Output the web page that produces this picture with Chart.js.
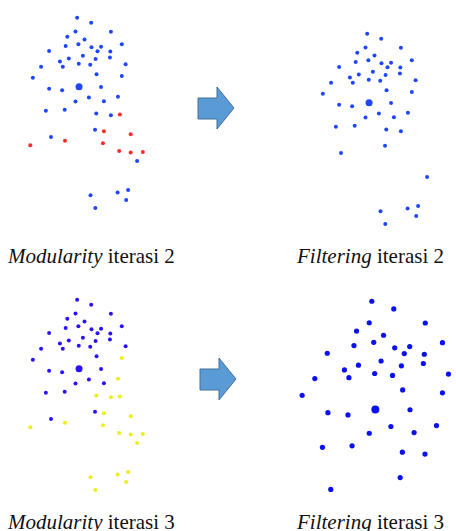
<!DOCTYPE html>
<html>
<head>
<meta charset="utf-8">
<script src="https://cdn.jsdelivr.net/npm/chart.js@4.4.1/dist/chart.umd.min.js"></script>
<style>
  html, body { margin: 0; padding: 0; background: #fff; }
  #page { position: relative; width: 456px; height: 531px; overflow: hidden; }
  canvas { position: absolute; }
  .cap { position: absolute; font-family: "Liberation Serif", "Times New Roman", Tinos, "DejaVu Serif", serif; font-size: 21px; color: #111; white-space: nowrap; line-height: 1; }
  svg { position: absolute; left: 0; top: 0; }
</style>
</head>
<body>
<div id="page">
  <svg width="456" height="531">
    <polygon points="198,98 217,98 217,87 234,108 217,129 217,119 198,119" fill="#5b9bd5" stroke="#41719c" stroke-width="1"/>
    <polygon points="200,369 219,369 219,358 236,379 219,400 219,390 200,390" fill="#5b9bd5" stroke="#41719c" stroke-width="1"/>
  </svg>
  <canvas id="mod2" width="160" height="220" style="left:0;top:0"></canvas>
  <canvas id="fil2" width="160" height="220" style="left:290px;top:16px"></canvas>
  <canvas id="mod3" width="160" height="220" style="left:0;top:282px"></canvas>
  <canvas id="fil3" width="176" height="220" style="left:280px;top:285px"></canvas>
  <div class="cap" style="left:8px;top:246px"><i>Modularity</i> iterasi 2</div>
  <div class="cap" style="left:297px;top:246px"><i>Filtering</i> iterasi 2</div>
  <div class="cap" style="left:8px;top:512px"><i>Modularity</i> iterasi 3</div>
  <div class="cap" style="left:297px;top:512px"><i>Filtering</i> iterasi 3</div>
</div>
<script>
// network layout (shared by modularity 2, filtering 2, modularity 3)
const nodeX = [77, 91.7, 75.3, 112.3, 66.7, 84.7, 65, 78.3, 92, 102, 123.7, 47.7, 98.3, 111.7, 83, 68.3,
  96.3, 111.3, 59, 78.7, 90.7, 127.7, 39.3, 62, 97.3, 123.7, 30.7, 79, 102, 47.7, 61.3, 89.3, 119.7,
  75.3, 105, 44.3, 64, 97, 112.3, 95.7, 49.7, 139.7, 130.3, 119.3, 91, 128.3, 96,
  121.7, 105, 133, 28, 64.3, 104, 121, 133, 145.7];
const nodeY = [14.7, 20, 29, 29.3, 34.3, 37.3, 44, 42, 45.3, 44.7, 42, 49, 49.3, 49.7, 54, 56.7,
  57.3, 55.7, 60, 62.3, 63.3, 62.7, 65.3, 65.3, 73, 75, 76.7, 86, 86.3, 88, 89.7, 97, 96.3,
  101.3, 101, 110.7, 109.7, 113.7, 115.3, 130.3, 138, 162.7, 192.7, 195.3, 198, 203, 211.3,
  114.7, 132, 135, 146.3, 141.7, 144.3, 152.3, 154, 153.3];
// community per node: 0 = main, 1 = split off
const comm2 = [0,0,0,0,0,0,0,0,0,0,0,0,0,0,0,0,0,0,0,0,0,0,0,0,0,0,0,0,0,0,0,0,0,0,0,0,0,0,0,0,0,0,0,0,0,0,0,
  1,1,1,1,1,1,1,1,1];
const comm3 = [0,0,0,0,0,0,0,0,0,0,0,0,0,0,0,0,0,0,0,0,0,0,0,0,0,1,0,0,0,0,0,0,1,0,0,0,0,1,1,0,0,1,1,1,1,1,1,
  1,1,1,1,1,1,1,1,1];
const hubNode = 27;

// filtering iterasi 3 re-layout
const fil3X = [92, 115, 89.3, 148, 76, 104.3, 73.3, 94, 166, 45.3, 116, 131.7, 126, 147, 101.7, 78, 63.3,
  123, 146, 95, 113.7, 172.3, 32.3, 68, 19, 124.3, 166, 95.7, 132, 46, 67, 112, 159.7, 89.3, 136.3,
  40.3, 71.3, 124, 147.7, 121.7, 49];
const fil3Y = [12.7, 20.7, 35, 35.3, 43.7, 48, 58.7, 55.3, 55.7, 66.7, 61, 59.7, 67, 67.7, 74.7, 79, 84,
  79.7, 77.3, 87.7, 89.7, 88.3, 93, 92, 110.3, 104.7, 107.7, 125, 125.3, 128.3, 130.7, 142.7, 141.7,
  149.7, 149, 164.3, 162.7, 169.3, 171.3, 195.7, 208];
const fil3Hub = 27;

function makeScatter(id, xs, ys, colors, radii, xMax, yMax) {
  const pts = xs.map((x, i) => ({ x: x, y: ys[i] }));
  new Chart(document.getElementById(id), {
    type: 'scatter',
    data: {
      datasets: [{
        data: pts,
        backgroundColor: colors,
        borderWidth: 0,
        pointRadius: radii,
        pointHoverRadius: radii,
        clip: false
      }]
    },
    options: {
      responsive: false,
      animation: false,
      events: [],
      layout: { padding: 0 },
      plugins: { legend: { display: false }, tooltip: { enabled: false } },
      scales: {
        x: { display: false, min: 0, max: xMax },
        y: { display: false, min: 0, max: yMax, reverse: true }
      }
    }
  });
}

function pick(arr, keep) { return arr.filter((v, i) => keep[i]); }

// modularity iterasi 2
makeScatter('mod2', nodeX, nodeY,
  comm2.map(c => c ? '#ff2a2a' : '#1f45ff'),
  nodeX.map((v, i) => i === hubNode ? 3.5 : 2), 160, 220);

// filtering iterasi 2: only main community kept
const keep2 = comm2.map(c => c === 0);
makeScatter('fil2', pick(nodeX, keep2), pick(nodeY, keep2),
  '#1f45ff',
  pick(nodeX.map((v, i) => i === hubNode ? 3.5 : 2), keep2), 160, 220);

// modularity iterasi 3
makeScatter('mod3', nodeX, nodeY,
  comm3.map(c => c ? '#eeee1a' : '#2a10ff'),
  nodeX.map((v, i) => i === hubNode ? 3.5 : 2), 160, 220);

// filtering iterasi 3
makeScatter('fil3', fil3X, fil3Y, '#0a10f0',
  fil3X.map((v, i) => i === fil3Hub ? 4 : 2.6), 176, 220);
</script>
</body>
</html>
